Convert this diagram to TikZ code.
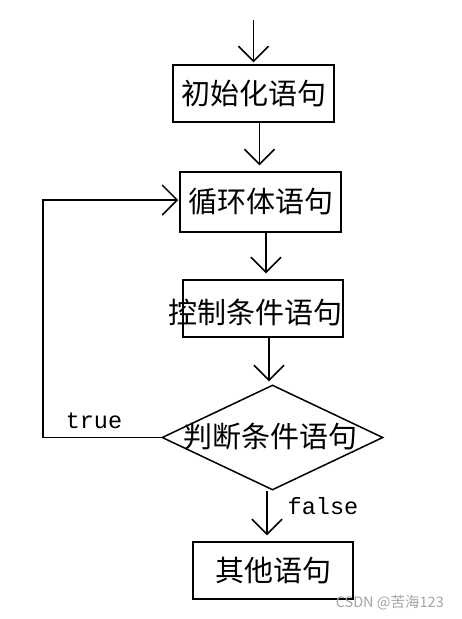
\documentclass[tikz,border=0pt]{standalone}
\usepackage{fontspec}
\newfontfamily\cjk{Noto Sans CJK SC}
\newfontfamily\monof{Liberation Mono}
\usetikzlibrary{arrows.meta,shapes.geometric,calc}
\begin{document}
\begin{tikzpicture}[x=1pt,y=-1pt,
  line width=1.5pt,
  arr/.style={-{Straight Barb[length=15pt,width=30pt,line width=1.5pt]}, shorten >=6pt},
  box/.style={draw, minimum width=161pt, minimum height=57pt, inner sep=0pt},
  lbl/.style={font=\cjk\fontsize{29}{32}\selectfont, inner sep=0pt},
  tf/.style={font=\monof\fontsize{23.5}{26}\selectfont, inner sep=0pt}]
\useasboundingbox[fill=white] (0,0) rectangle (462,619);
\coordinate (start) at (253.5,20);
\node[box] (b1) at (253.5,93.5) {};
\node[lbl] at (b1) {初始化语句};
\node[box, minimum height=60pt] (b2) at (260.5,202) {};
\node[lbl] at (b2) {循环体语句};
\node[box, minimum width=160pt] (b3) at (263,308.5) {};
\node[lbl] (t3) at (255.5,313) {控制条件语句};
\node[draw, diamond, minimum width=221pt, minimum height=105pt, inner sep=0pt] (d) at (272.5,437.5) {};
\node[lbl] at (270,437) {判断条件语句};
\node[box, minimum width=160pt] (b5) at (273,570.5) {};
\node[lbl] at (b5) {其他语句};
\coordinate (lc) at (43,0);
% connectors
\draw[arr, shorten >=2pt] (start) -- (b1.north);
\draw[arr] ([xshift=6pt]b1.south) -- ([xshift=6pt]b1.south |- b2.north);
\draw[arr] ([xshift=5.5pt]b2.south) -- ([xshift=5.5pt]b2.south |- b3.north);
\draw[arr, shorten >=3pt] ([xshift=6pt]b3.south) -- ([xshift=6pt]b3.south |- d.north);
\draw[arr] ([xshift=-5.5pt]d.south) -- ([xshift=-5.5pt]d.south |- b5.north);
\draw[arr, shorten >=1pt] (d.west) -- (d.west -| lc) |- ([yshift=2pt]b2.west);
\node[tf] at (94,421) {true};
\node[tf] at (323,506) {false};
\node[font=\cjk\fontsize{14.5}{16}\selectfont, text=black!35, inner sep=0pt, anchor=west] at (335,603) {CSDN @苦海123};
\end{tikzpicture}
\end{document}
